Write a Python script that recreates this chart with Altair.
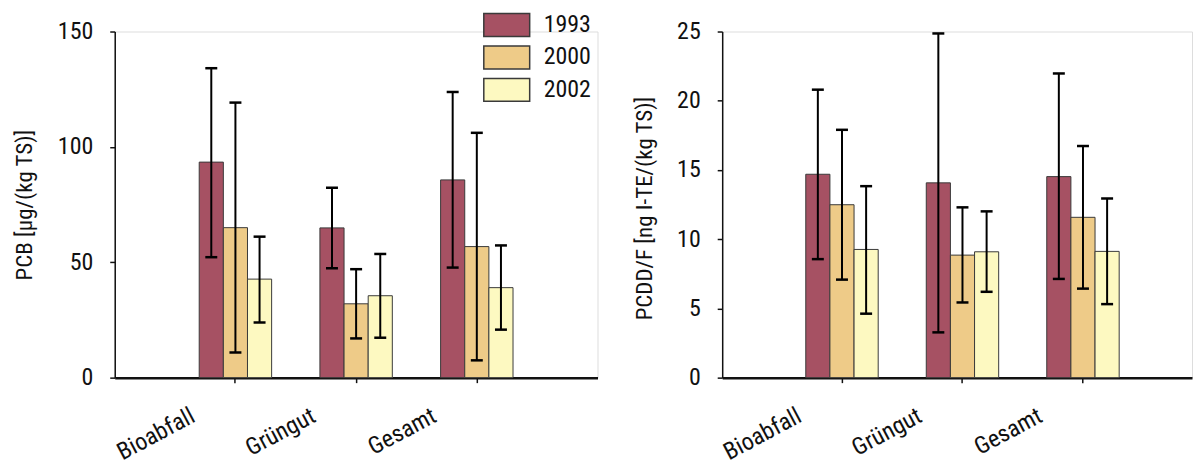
import altair as alt
import pandas as pd

categories = ["Bioabfall", "Grüngut", "Gesamt"]
years = ["1993", "2000", "2002"]
colors = ["#a65163", "#eecb88", "#fdf9c1"]

# PCB [µg/(kg TS)]
pcb_mean_1993 = [93.4, 64.9, 85.7]
pcb_mean_2000 = [65.0, 32.0, 56.8]
pcb_mean_2002 = [42.7, 35.5, 39.0]
pcb_low_1993 = [52.2, 47.4, 47.7]
pcb_low_2000 = [10.9, 17.0, 7.5]
pcb_low_2002 = [23.9, 17.3, 20.8]
pcb_high_1993 = [134.1, 82.3, 123.8]
pcb_high_2000 = [119.2, 47.0, 106.1]
pcb_high_2002 = [61.1, 53.6, 57.3]

# PCDD/F [ng I-TE/(kg TS)]
pcdd_mean_1993 = [14.69, 14.07, 14.52]
pcdd_mean_2000 = [12.49, 8.85, 11.58]
pcdd_mean_2002 = [9.26, 9.09, 9.12]
pcdd_low_1993 = [8.56, 3.27, 7.13]
pcdd_low_2000 = [7.08, 5.43, 6.43]
pcdd_low_2002 = [4.62, 6.20, 5.31]
pcdd_high_1993 = [20.80, 24.86, 21.97]
pcdd_high_2000 = [17.90, 12.30, 16.73]
pcdd_high_2002 = [13.83, 12.01, 12.94]

FONT = "Liberation Sans Narrow, Arial Narrow, Roboto Condensed, sans-serif"


def build(means, lows, highs):
    rows = []
    for y, m, lo, hi in zip(years, means, lows, highs):
        for c, mv, lv, hv in zip(categories, m, lo, hi):
            rows.append({"cat": c, "year": y, "mean": mv, "low": lv, "high": hv})
    return pd.DataFrame(rows)


pcb_df = build([pcb_mean_1993, pcb_mean_2000, pcb_mean_2002],
               [pcb_low_1993, pcb_low_2000, pcb_low_2002],
               [pcb_high_1993, pcb_high_2000, pcb_high_2002])
pcdd_df = build([pcdd_mean_1993, pcdd_mean_2000, pcdd_mean_2002],
                [pcdd_low_1993, pcdd_low_2000, pcdd_low_2002],
                [pcdd_high_1993, pcdd_high_2000, pcdd_high_2002])


def panel(df, ytitle, ymax, ystep, width, po, align, title_x, title_y, legend):
    xaxis = alt.Axis(title=None, labelAngle=-28, labelAlign="right",
                     labelBaseline="alphabetic", labelOffset=-39,
                     labelPadding=38, tickSize=5, tickWidth=1.5, tickColor="#111",
                     domainWidth=2.5, domainColor="#111", labelFontSize=24,
                     labelOverlap=False, labelFlush=False, labelBound=False,
                     labelColor="#111", labelFont=FONT, grid=False)
    x = alt.X("cat:N", sort=categories,
              scale=alt.Scale(paddingInner=0.4, paddingOuter=po, align=align),
              axis=xaxis)
    xo = alt.XOffset("year:N", sort=years,
                     scale=alt.Scale(paddingInner=0, paddingOuter=0))
    yaxis = alt.Axis(title=ytitle, values=list(range(0, ymax + 1, ystep)),
                     tickSize=5, tickWidth=1.5, tickColor="#111",
                     domainWidth=1.5, domainColor="#111", labelPadding=17,
                     labelFontSize=24, labelColor="#111", labelFont=FONT,
                     titleFontSize=23, titleFontWeight="normal", titleColor="#111",
                     titleFont=FONT, titleAngle=270, titleBaseline="top",
                     titleAlign="center", titleX=title_x, titleY=title_y,
                     grid=False)
    yscale = alt.Scale(domain=[0, ymax], nice=False)
    color = alt.Color("year:N", sort=years,
                      scale=alt.Scale(domain=years, range=colors), legend=legend)
    base = alt.Chart(df)
    bars = base.mark_bar(stroke="#3a3a3a", strokeWidth=1).encode(
        x=x, xOffset=xo, y=alt.Y("mean:Q", scale=yscale, axis=yaxis), color=color)
    rules = base.mark_rule(color="black", strokeWidth=2).encode(
        x=x, xOffset=xo, y=alt.Y("low:Q", scale=yscale, axis=yaxis), y2="high:Q")
    cap_hi = base.mark_tick(color="black", thickness=2.5, size=12,
                            orient="horizontal", opacity=1).encode(
        x=x, xOffset=xo, y=alt.Y("high:Q", scale=yscale, axis=yaxis))
    cap_lo = base.mark_tick(color="black", thickness=2.5, size=12,
                            orient="horizontal", opacity=1).encode(
        x=x, xOffset=xo, y=alt.Y("low:Q", scale=yscale, axis=yaxis))
    return alt.layer(bars, rules, cap_hi, cap_lo).properties(width=width, height=347)


legend = alt.Legend(title=None, orient="none", legendX=380.5, legendY=-19,
                    symbolType="M-2,-1H2V1H-2Z", symbolSize=529,
                    symbolStrokeColor="#3a3a3a", symbolStrokeWidth=1.5,
                    symbolOpacity=1, labelFontSize=24, labelFont=FONT,
                    labelColor="#111", labelOffset=24.5, rowPadding=3.5,
                    padding=0)

left = panel(pcb_df, "PCB [µg/(kg TS)]", 150, 50, 484, 0.7, 0.5,
             -101, 173.5, legend)
right = panel(pcdd_df, "PCDD/F [ng I-TE/(kg TS)]", 25, 5, 471, 0.6495, 0.534,
              -89, 177, None)

chart = alt.hconcat(left, right, spacing=34).resolve_scale(
    color="independent").properties(
    padding={"left": 5, "top": 3, "right": 0, "bottom": 0}
).configure_view(stroke=None).configure(font=FONT)

chart.save("out.html", embed_options={"renderer": "svg", "actions": False})
